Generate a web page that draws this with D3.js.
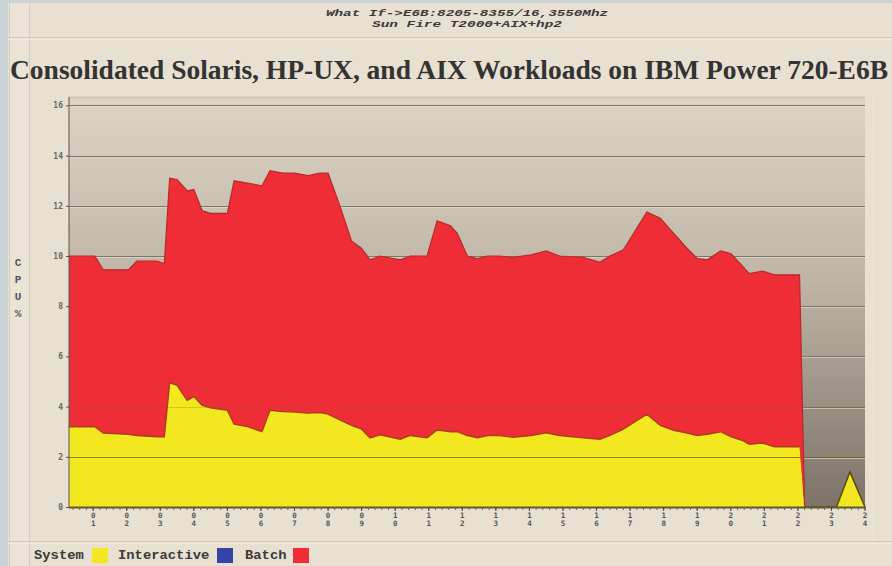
<!DOCTYPE html>
<html>
<head>
<meta charset="utf-8">
<style>
  body { margin: 0; background: #c9d3d5; }
  svg { display: block; }
</style>
</head>
<body>
<svg id="chart" width="892" height="566"></svg>
<script src="https://cdn.jsdelivr.net/npm/d3@7"></script>
<script>
// hours of the day (x), CPU % stacked: system, interactive, batch
var hours = [0.28, 1.05, 1.3, 2.05, 2.3, 2.9, 3.12, 3.28, 3.5, 3.8, 4.0, 4.25, 4.5, 5.0, 5.2, 5.6,
  6.03, 6.27, 6.65, 7.0, 7.4, 7.75, 8.0, 8.35, 8.7, 9.0, 9.25, 9.55, 10.15, 10.45, 10.95, 11.25,
  11.65, 11.85, 12.15, 12.45, 12.75, 13.1, 13.5, 14.05, 14.5, 14.9, 15.6, 16.1, 16.4, 16.8, 17.5,
  17.9, 18.3, 18.7, 19.0, 19.3, 19.7, 20.0, 20.35, 20.55, 20.95, 21.3, 22.05, 22.2, 23.15, 23.55, 24.0];

var systemCpu = [3.2, 3.2, 2.95, 2.9, 2.85, 2.8, 2.8, 4.95, 4.85, 4.25, 4.4, 4.05, 3.95, 3.85, 3.3, 3.2,
  3.0, 3.85, 3.8, 3.78, 3.74, 3.76, 3.7, 3.47, 3.25, 3.1, 2.75, 2.88, 2.7, 2.85, 2.76, 3.07,
  3.0, 3.0, 2.85, 2.76, 2.85, 2.85, 2.78, 2.85, 2.96, 2.85, 2.76, 2.7, 2.85, 3.1, 3.7,
  3.25, 3.05, 2.95, 2.85, 2.9, 3.0, 2.8, 2.65, 2.5, 2.55, 2.4, 2.4, 0, 0, 1.4, 0];

var interactiveCpu = [0, 0, 0, 0, 0, 0, 0, 0, 0, 0, 0, 0, 0, 0, 0, 0,
  0, 0, 0, 0, 0, 0, 0, 0, 0, 0, 0, 0, 0, 0, 0, 0,
  0, 0, 0, 0, 0, 0, 0, 0, 0, 0, 0, 0, 0, 0, 0,
  0, 0, 0, 0, 0, 0, 0, 0, 0, 0, 0, 0, 0, 0, 0, 0];

var batchCpu = [6.8, 6.8, 6.5, 6.55, 6.95, 7.0, 6.9, 8.15, 8.2, 8.35, 8.25, 7.75, 7.75, 7.85, 9.7, 9.7,
  9.8, 9.55, 9.5, 9.52, 9.46, 9.54, 9.6, 8.53, 7.35, 7.2, 7.1, 7.12, 7.15, 7.15, 7.24, 8.33,
  8.2, 7.9, 7.15, 7.14, 7.15, 7.15, 7.17, 7.2, 7.24, 7.15, 7.19, 7.05, 7.15, 7.15, 8.05,
  8.25, 7.85, 7.35, 7.05, 6.95, 7.2, 7.3, 6.95, 6.8, 6.85, 6.85, 6.85, 0, 0, 0, 0];

var hourLabels = ["01", "02", "03", "04", "05", "06", "07", "08", "09", "10", "11", "12",
  "13", "14", "15", "16", "17", "18", "19", "20", "21", "22", "23", "24"];
var yTicks = [0, 2, 4, 6, 8, 10, 12, 14, 16];

var seriesNames = ["System", "Interactive", "Batch"];
var seriesColors = ["#f3e81f", "#3443a8", "#ee2d36"];

var svg = d3.select("#chart");

// frame / panel
svg.append("rect").attr("x", 8).attr("y", 3).attr("width", 884).attr("height", 563).attr("fill", "#e8e0d0");
svg.append("rect").attr("x", 10).attr("y", 3).attr("width", 19).attr("height", 563).attr("fill", "#ebe4d6");
[9.5, 29.5].forEach(function(xx) {
  svg.append("line").attr("x1", xx).attr("x2", xx).attr("y1", 3).attr("y2", 566)
    .attr("stroke", "#d4ccbc");
});
svg.append("line").attr("x1", 8).attr("x2", 892).attr("y1", 37.5).attr("y2", 37.5).attr("stroke", "#d2cab9");
svg.append("line").attr("x1", 8).attr("x2", 892).attr("y1", 39.5).attr("y2", 39.5).attr("stroke", "#f3eee4");
svg.append("line").attr("x1", 8).attr("x2", 892).attr("y1", 541.5).attr("y2", 541.5).attr("stroke", "#d2cab9");
svg.append("line").attr("x1", 8).attr("x2", 892).attr("y1", 543.5).attr("y2", 543.5).attr("stroke", "#f3eee4");
svg.append("line").attr("x1", 873.5).attr("x2", 873.5).attr("y1", 97).attr("y2", 541).attr("stroke", "#f1ebdf");

// headings
var sub = svg.append("g").attr("font-family", "'Liberation Mono', 'DejaVu Sans Mono', monospace")
  .attr("font-weight", "bold").attr("font-style", "italic").attr("font-size", 9.5)
  .attr("fill", "#3a3a3a").attr("text-anchor", "middle");
sub.append("text").attr("x", 467).attr("y", 16).attr("textLength", 282).attr("lengthAdjust", "spacingAndGlyphs")
  .text("What If->E6B:8205-8355/16,3550Mhz");
sub.append("text").attr("x", 467).attr("y", 27).attr("textLength", 190).attr("lengthAdjust", "spacingAndGlyphs")
  .text("Sun Fire T2000+AIX+hp2");

svg.append("text").attr("x", 10).attr("y", 79)
  .attr("font-family", "'Liberation Serif', 'Times New Roman', serif").attr("font-weight", "bold")
  .attr("font-size", 27.5).attr("fill", "#333")
  .attr("textLength", 878).attr("lengthAdjust", "spacingAndGlyphs")
  .text("Consolidated  Solaris, HP-UX, and AIX Workloads on IBM Power 720-E6B");

// scales
var plotLeft = 69, plotRight = 865, plotTop = 97, plotBottom = 507;
var x = d3.scaleLinear().domain([0.28, 24]).range([plotLeft, plotRight]);
var y = d3.scaleLinear().domain([0, 16]).range([plotBottom, plotBottom - 25.1 * 16]);

// plot background gradient
var defs = svg.append("defs");
var grad = defs.append("linearGradient").attr("id", "bg").attr("x1", 0).attr("x2", 0).attr("y1", 0).attr("y2", 1);
grad.append("stop").attr("offset", "0%").attr("stop-color", "#dcd4c4");
grad.append("stop").attr("offset", "45%").attr("stop-color", "#beb5a6");
grad.append("stop").attr("offset", "100%").attr("stop-color", "#7c7369");
svg.append("rect").attr("x", plotLeft).attr("y", plotTop).attr("width", plotRight - plotLeft).attr("height", plotBottom - plotTop)
  .attr("fill", "url(#bg)");
svg.append("line").attr("x1", plotLeft).attr("x2", plotRight).attr("y1", plotTop + 0.5).attr("y2", plotTop + 0.5)
  .attr("stroke", "#cfc6b6").attr("stroke-width", 2);

// grid
var grid = svg.append("g");
yTicks.slice(1).forEach(function(t) {
  grid.append("line").attr("x1", plotLeft).attr("x2", plotRight).attr("y1", Math.round(y(t)) + 0.5).attr("y2", Math.round(y(t)) + 0.5)
    .attr("stroke", "#7d7466").attr("stroke-width", 1.2);
  grid.append("line").attr("x1", plotLeft).attr("x2", plotRight).attr("y1", Math.round(y(t)) + 1.5).attr("y2", Math.round(y(t)) + 1.5)
    .attr("stroke", "#e6dfd2").attr("stroke-opacity", 0.6);
});

// stacked areas
var rows = hours.map(function(h, i) {
  return { hour: h, System: systemCpu[i], Interactive: interactiveCpu[i], Batch: batchCpu[i] };
});
var stack = d3.stack().keys(seriesNames);
var layers = stack(rows);

var area = d3.area()
  .x(function(d) { return x(d.data.hour); })
  .y0(function(d) { return y(d[0]); })
  .y1(function(d) { return y(d[1]); });
var topLine = d3.line()
  .x(function(d) { return x(d.data.hour); })
  .y(function(d) { return y(d[1]); });

svg.append("g").selectAll("path.layer")
  .data(layers)
  .join("path")
    .attr("class", "layer")
    .attr("d", area)
    .attr("fill", function(d, i) { return seriesColors[i]; });

// gridlines showing through (faint on fill)
yTicks.slice(1, 3).forEach(function(t) {
  svg.append("line").attr("x1", plotLeft).attr("x2", plotRight).attr("y1", Math.round(y(t)) + 0.5).attr("y2", Math.round(y(t)) + 0.5)
    .attr("stroke", "#6e6418").attr("stroke-opacity", t === 2 ? 0.75 : 0.25);
});

// edge lines
svg.append("path").datum(layers[2].filter(function(d) { return d.data.hour <= 22.2; }))
  .attr("d", topLine).attr("fill", "none").attr("stroke", "#b82a26").attr("stroke-width", 1.2);
svg.append("path").datum(layers[0].filter(function(d) { return d.data.hour <= 22.06; }))
  .attr("d", topLine).attr("fill", "none").attr("stroke", "#a8401c").attr("stroke-width", 1.4);
svg.append("path").datum(layers[0].filter(function(d) { return d.data.hour >= 22.2; }))
  .attr("d", topLine).attr("fill", "none").attr("stroke", "#5e4c12").attr("stroke-width", 1.6);

// y axis
var yAxis = svg.append("g").attr("transform", "translate(" + plotLeft + ",0)")
  .call(d3.axisLeft(y).tickValues(yTicks).tickSize(3).tickPadding(3));
yAxis.select(".domain").attr("stroke", "#555").attr("d", "M0," + plotTop + "V" + plotBottom);
yAxis.selectAll(".tick line").attr("stroke", "#555");
yAxis.selectAll("text").attr("font-family", "'DejaVu Sans Mono', monospace").attr("font-weight", "bold")
  .attr("font-size", 8).attr("fill", "#666");

// x axis
var xAxis = svg.append("g").attr("transform", "translate(0," + plotBottom + ")");
xAxis.append("line").attr("x1", plotLeft).attr("x2", plotRight).attr("y1", 0.5).attr("y2", 0.5)
  .attr("stroke", "#5f5a2a").attr("stroke-width", 2);
var minor = d3.range(Math.ceil(0.28 * 5) / 5, 24.001, 0.2);
xAxis.selectAll("line.minor").data(minor).join("line").attr("class", "minor")
  .attr("x1", function(d) { return x(d); }).attr("x2", function(d) { return x(d); })
  .attr("y1", 0).attr("y2", 3).attr("stroke", "#6a6540");
var xt = xAxis.selectAll("g.xt").data(hourLabels).join("g").attr("class", "xt")
  .attr("transform", function(d, i) { return "translate(" + x(i + 1) + ",0)"; });
xt.append("line").attr("y1", 0).attr("y2", 4).attr("stroke", "#444");
xt.append("text").attr("y", 11).attr("text-anchor", "middle")
  .attr("font-family", "'DejaVu Sans Mono', monospace").attr("font-weight", "bold").attr("font-size", 7.5)
  .attr("fill", "#555").text(function(d) { return d[0]; });
xt.append("text").attr("y", 19).attr("text-anchor", "middle")
  .attr("font-family", "'DejaVu Sans Mono', monospace").attr("font-weight", "bold").attr("font-size", 7.5)
  .attr("fill", "#555").text(function(d) { return d[1]; });

// y label
var yl = svg.append("g").attr("font-family", "'Liberation Mono', monospace").attr("font-weight", "bold")
  .attr("font-size", 11).attr("fill", "#555").attr("text-anchor", "middle");
["C", "P", "U", "%"].forEach(function(c, i) {
  yl.append("text").attr("x", 18).attr("y", 266 + i * 17).text(c);
});

// legend
var legendX = [34, 118, 245];
var swatchX = [92, 217, 293];
var lg = svg.append("g").attr("font-family", "'Liberation Mono', monospace").attr("font-weight", "bold")
  .attr("font-size", 13).attr("fill", "#3a3a3a");
seriesNames.forEach(function(n, i) {
  lg.append("text").attr("x", legendX[i]).attr("y", 559).attr("textLength", n.length * 8.3)
    .attr("lengthAdjust", "spacingAndGlyphs").text(n);
  lg.append("rect").attr("x", swatchX[i]).attr("y", 548).attr("width", 16).attr("height", 15)
    .attr("fill", seriesColors[i]);
});
</script>
</body>
</html>
